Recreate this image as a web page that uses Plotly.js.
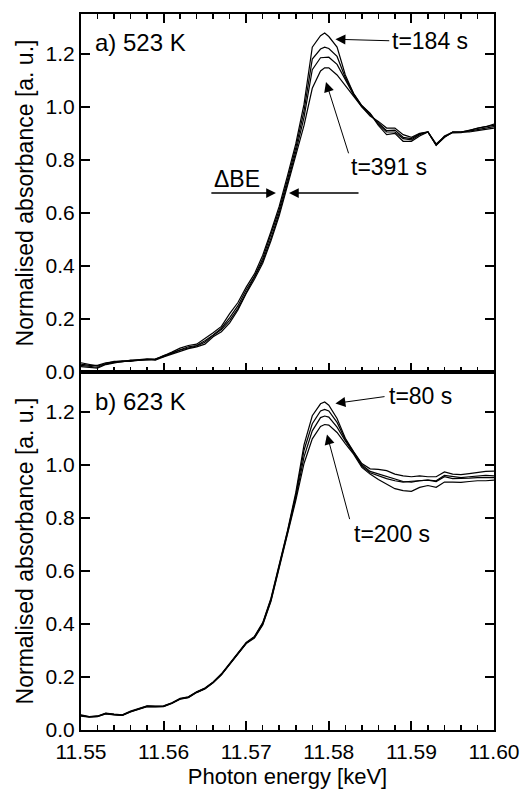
<!DOCTYPE html>
<html>
<head>
<meta charset="utf-8">
<script src="https://cdn.plot.ly/plotly-3.0.1.min.js"></script>
<style>html,body{margin:0;padding:0;background:#fff;}#chart{width:527px;height:789px;}</style>
</head>
<body>
<div id="chart"></div>
<script>
// Photon energy [keV]
const energy = [11.550,11.551,11.552,11.553,11.554,11.555,11.556,11.557,11.558,11.559,
  11.560,11.561,11.562,11.563,11.564,11.565,11.566,11.567,11.568,11.569,
  11.570,11.571,11.572,11.573,11.574,11.575,11.576,11.577,11.578,11.579,11.5795,
  11.580,11.581,11.582,11.583,11.584,11.585,11.586,11.587,11.588,11.589,
  11.590,11.591,11.592,11.593,11.594,11.595,11.596,11.597,11.598,11.599,11.600];

// Panel a) 523 K
const a_t184 = [0.035,0.028,0.022,0.032,0.040,0.040,0.043,0.047,0.050,0.047,
  0.060,0.075,0.090,0.100,0.105,0.125,0.148,0.172,0.220,0.262,
  0.320,0.370,0.440,0.530,0.625,0.740,0.860,1.010,1.225,1.268,1.278,
  1.265,1.225,1.120,1.050,1.005,0.975,0.930,0.895,0.900,0.870,
  0.870,0.890,0.905,0.855,0.885,0.905,0.905,0.910,0.920,0.925,0.935];
const a_t2 = [0.030,0.025,0.025,0.035,0.038,0.042,0.040,0.045,0.048,0.050,
  0.058,0.072,0.085,0.095,0.100,0.118,0.140,0.165,0.205,0.250,
  0.310,0.360,0.428,0.518,0.612,0.725,0.845,0.985,1.180,1.218,1.225,
  1.220,1.190,1.110,1.050,1.003,0.975,0.935,0.905,0.905,0.880,
  0.875,0.895,0.905,0.857,0.885,0.905,0.905,0.912,0.918,0.925,0.930];
const a_t3 = [0.025,0.022,0.018,0.030,0.036,0.038,0.045,0.044,0.046,0.048,
  0.062,0.070,0.083,0.090,0.098,0.112,0.138,0.160,0.195,0.240,
  0.300,0.355,0.418,0.505,0.600,0.712,0.830,0.960,1.140,1.185,1.187,
  1.187,1.160,1.100,1.045,1.000,0.970,0.940,0.910,0.912,0.885,
  0.880,0.898,0.905,0.860,0.888,0.902,0.903,0.908,0.915,0.918,0.925];
const a_t391 = [0.020,0.018,0.015,0.028,0.035,0.040,0.042,0.046,0.047,0.045,
  0.057,0.068,0.080,0.088,0.095,0.105,0.133,0.152,0.185,0.234,
  0.296,0.350,0.410,0.495,0.590,0.700,0.812,0.930,1.070,1.135,1.147,
  1.147,1.120,1.080,1.040,1.000,0.965,0.945,0.920,0.920,0.895,
  0.885,0.900,0.905,0.855,0.890,0.905,0.905,0.905,0.910,0.915,0.920];

// Panel b) 623 K
const b_t80 = [0.057,0.051,0.053,0.064,0.060,0.057,0.071,0.081,0.091,0.090,
  0.091,0.103,0.119,0.125,0.144,0.158,0.181,0.212,0.250,0.292,
  0.330,0.353,0.405,0.497,0.622,0.752,0.895,1.075,1.185,1.230,1.237,
  1.225,1.175,1.100,1.050,1.005,0.985,0.983,0.978,0.965,0.958,
  0.955,0.958,0.955,0.955,0.973,0.965,0.963,0.967,0.972,0.975,0.976];
const b_t2 = [0.055,0.050,0.052,0.063,0.059,0.056,0.070,0.080,0.090,0.089,
  0.090,0.102,0.118,0.124,0.143,0.157,0.180,0.210,0.248,0.290,
  0.328,0.351,0.402,0.493,0.618,0.748,0.885,1.055,1.155,1.203,1.209,
  1.203,1.160,1.095,1.048,1.000,0.975,0.965,0.955,0.945,0.937,
  0.935,0.940,0.942,0.940,0.960,0.955,0.952,0.955,0.958,0.960,0.958];
const b_t3 = [0.054,0.049,0.051,0.062,0.058,0.055,0.069,0.079,0.089,0.088,
  0.089,0.101,0.117,0.123,0.142,0.156,0.179,0.209,0.247,0.289,
  0.327,0.349,0.399,0.489,0.613,0.743,0.875,1.030,1.128,1.178,1.184,
  1.180,1.142,1.090,1.045,0.995,0.970,0.958,0.948,0.940,0.935,
  0.938,0.940,0.942,0.937,0.955,0.948,0.948,0.950,0.952,0.953,0.952];
const b_t200 = [0.052,0.048,0.050,0.061,0.057,0.055,0.068,0.078,0.088,0.087,
  0.088,0.100,0.116,0.122,0.141,0.155,0.178,0.208,0.246,0.288,
  0.326,0.347,0.396,0.485,0.608,0.737,0.865,1.005,1.098,1.145,1.152,
  1.150,1.122,1.080,1.040,0.990,0.965,0.945,0.928,0.910,0.903,
  0.900,0.915,0.922,0.915,0.935,0.935,0.934,0.937,0.940,0.940,0.942];

const panelA = [a_t184, a_t2, a_t3, a_t391];
const panelB = [b_t80, b_t2, b_t3, b_t200];

const traces = [];
panelA.forEach(v => traces.push({x: energy, y: v, xaxis: 'x', yaxis: 'y', mode: 'lines',
  line: {color: '#000', width: 1.2}, hoverinfo: 'skip'}));
panelB.forEach(v => traces.push({x: energy, y: v, xaxis: 'x2', yaxis: 'y2', mode: 'lines',
  line: {color: '#000', width: 1.2}, hoverinfo: 'skip'}));

const fontFam = 'Liberation Sans, Arial, Helvetica, sans-serif';
const xCommon = {
  range: [11.55, 11.60], tick0: 11.55, dtick: 0.01, ticks: 'inside', ticklen: 9, tickwidth: 2,
  tickcolor: '#000', showline: true, linewidth: 2, linecolor: '#000', showgrid: false, zeroline: false,
  minor: {tick0: 11.55, dtick: 0.002, ticks: 'inside', ticklen: 5, tickwidth: 1.5, tickcolor: '#000', showgrid: false}
};
const yCommon = {
  range: [0, 1.35], tick0: 0, dtick: 0.2, tickformat: '.1f', ticks: 'inside', ticklen: 9, tickwidth: 2,
  tickcolor: '#000', showline: true, linewidth: 2, linecolor: '#000', mirror: 'ticks',
  showgrid: false, zeroline: false, tickfont: {size: 21},
  title: {text: 'Normalised absorbance [a. u.]', font: {size: 23}, standoff: 6}
};

function arrow(xr, yr, hx, hy, tx, ty, w, s) {
  return {xref: xr, yref: yr, axref: xr, ayref: yr, x: hx, y: hy, ax: tx, ay: ty, text: '',
    showarrow: true, arrowhead: 2, arrowsize: s, arrowwidth: w, arrowcolor: '#000', standoff: 0, startstandoff: 0};
}
function label(xr, yr, x, y, t, sz) {
  return {xref: xr, yref: yr, x: x, y: y, text: t, showarrow: false, xanchor: 'left', yanchor: 'middle',
    font: {size: sz, color: '#000', family: fontFam}};
}

const layout = {
  width: 527, height: 789,
  margin: {l: 81, r: 33, t: 14, b: 59},
  paper_bgcolor: '#fff', plot_bgcolor: '#fff',
  showlegend: false,
  font: {family: fontFam, color: '#000', size: 21},
  xaxis: Object.assign({}, xCommon, {anchor: 'y', mirror: 'ticks', showticklabels: false}),
  yaxis: Object.assign({}, yCommon, {domain: [0.5, 1], anchor: 'x'}),
  xaxis2: Object.assign({}, xCommon, {anchor: 'y2', mirror: true, tickformat: '.2f', tickfont: {size: 21},
    ticklabelstandoff: 2,
    title: {text: 'Photon energy [keV]', font: {size: 22}, standoff: 6}}),
  yaxis2: Object.assign({}, yCommon, {domain: [0, 0.5], anchor: 'x2'}),
  annotations: [
    label('x', 'y', 11.5514, 1.2415, 'a) 523 K', 24),
    label('x', 'y', 11.5874, 1.249, 't=184 s', 23),
    arrow('x', 'y', 11.5808, 1.2547, 11.5875, 1.249, 1, 2),
    label('x', 'y', 11.5824, 0.774, 't=391 s', 23),
    arrow('x', 'y', 11.57966, 1.094, 11.58245, 0.819, 1, 2),
    label('x', 'y', 11.56586, 0.728, '\u0394BE', 23),
    arrow('x', 'y', 11.5736, 0.675, 11.5656, 0.675, 1.5, 1.3),
    arrow('x', 'y', 11.57518, 0.675, 11.58378, 0.675, 1.5, 1.3),
    label('x2', 'y2', 11.5514, 1.239, 'b) 623 K', 24),
    label('x2', 'y2', 11.58705, 1.258, 't=80 s', 23),
    arrow('x2', 'y2', 11.5808, 1.2316, 11.58693, 1.258, 1, 2),
    label('x2', 'y2', 11.5828, 0.740, 't=200 s', 23),
    arrow('x2', 'y2', 11.57978, 1.1145, 11.58257, 0.7896, 1, 2)
  ]
};

Plotly.newPlot('chart', traces, layout, {displayModeBar: false, staticPlot: true});
</script>
</body>
</html>
